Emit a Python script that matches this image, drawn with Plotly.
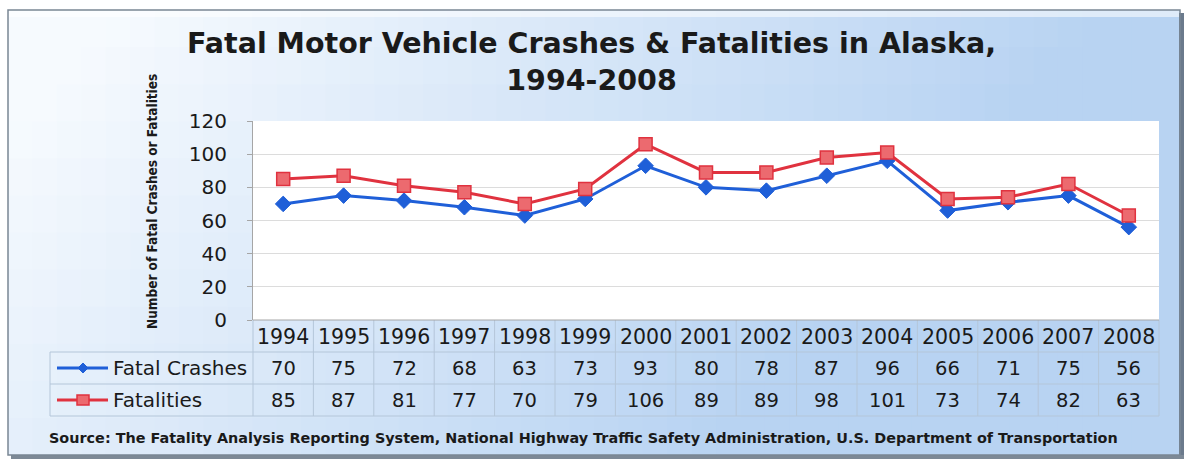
import plotly.graph_objects as go

W, H = 1187, 462

years = ["1994", "1995", "1996", "1997", "1998", "1999", "2000", "2001",
         "2002", "2003", "2004", "2005", "2006", "2007", "2008"]
fatal_crashes = [70, 75, 72, 68, 63, 73, 93, 80, 78, 87, 96, 66, 71, 75, 56]
fatalities = [85, 87, 81, 77, 70, 79, 106, 89, 89, 98, 101, 73, 74, 82, 63]
series_names = ["Fatal Crashes", "Fatalities"]
y_ticks = [0, 20, 40, 60, 80, 100, 120]

title_text = "Fatal Motor Vehicle Crashes & Fatalities in Alaska,<br>1994-2008"
y_title = "Number of Fatal Crashes or Fatalities"
source_text = ("Source: The Fatality Analysis Reporting System, National Highway "
               "Traffic Safety Administration, U.S. Department of Transportation")

BLUE = "#1f5fd8"
RED = "#e0323f"
RED_FILL = "#ec6a6f"
GRID = "#dcdcdc"
TLINE = "#b4c6d9"
TXT = "#1a1a1a"
NUM_FONT = "DejaVu Sans"


def px(x):
    return x / W


def py(y):
    return 1 - y / H


PL, PR, PT, PB = 253, 1159, 121, 320
TAB_L = 50
ROW_Y = [337, 368, 400]
ROW_LINES = [352, 384, 416]

fig = go.Figure()

xs = list(range(len(years)))
fig.add_trace(go.Scatter(
    x=xs, y=fatal_crashes, name=series_names[0], mode="lines+markers",
    line=dict(color=BLUE, width=3),
    marker=dict(symbol="diamond", size=12, color=BLUE, line=dict(color=BLUE, width=1)),
    cliponaxis=False, showlegend=False))
fig.add_trace(go.Scatter(
    x=xs, y=fatalities, name=series_names[1], mode="lines+markers",
    line=dict(color=RED, width=3),
    marker=dict(symbol="square", size=13, color=RED_FILL, line=dict(color=RED, width=1.5)),
    cliponaxis=False, showlegend=False))

shapes = []
c0 = (246, 250, 254)
c1 = (184, 211, 242)
FX0, FX1, FY0, FY1 = 8, 1180, 10, 455
NC, NR = 48, 12
for i in range(NC):
    for j in range(NR):
        xa = FX0 + (FX1 - FX0) * i / NC
        xb = FX0 + (FX1 - FX0) * (i + 1) / NC
        ya = FY0 + (FY1 - FY0) * j / NR
        yb = FY0 + (FY1 - FY0) * (j + 1) / NR
        t = 1.2 * ((i + 0.5) / NC) + 0.4 * ((j + 0.5) / NR) - 0.12
        t = max(0.0, min(1.0, t))
        col = tuple(int(round(c0[k] + (c1[k] - c0[k]) * t)) for k in range(3))
        shapes.append(dict(type="rect", xref="paper", yref="paper", layer="below",
                           x0=px(xa), x1=px(min(xb + 1, FX1)), y0=py(min(yb + 1, FY1)), y1=py(ya),
                           fillcolor="rgb(%d,%d,%d)" % col, line=dict(width=0)))
# top highlight band
shapes.append(dict(type="rect", xref="paper", yref="paper", layer="below",
                   x0=px(FX0), x1=px(FX1), y0=py(17), y1=py(FY0),
                   fillcolor="rgba(255,255,255,0.55)", line=dict(width=0)))
# shadow and frame
shapes.append(dict(type="rect", xref="paper", yref="paper", layer="below",
                   x0=px(FX1 - 1), x1=px(FX1 + 4), y0=py(FY1 + 4), y1=py(FY0 + 3),
                   fillcolor="#6b7a8c", line=dict(width=0)))
shapes.append(dict(type="rect", xref="paper", yref="paper", layer="below",
                   x0=px(FX0 + 3), x1=px(FX1 + 4), y0=py(FY1 + 4), y1=py(FY1),
                   fillcolor="#7d8996", line=dict(width=0)))
shapes.append(dict(type="rect", xref="paper", yref="paper", layer="below",
                   x0=px(FX0), x1=px(FX1), y0=py(FY1), y1=py(FY0),
                   fillcolor="rgba(0,0,0,0)", line=dict(color="#7a8794", width=1.5)))
shapes.append(dict(type="rect", xref="paper", yref="paper", layer="below",
                   x0=px(PL), x1=px(PR), y0=py(PB), y1=py(PT),
                   fillcolor="white", line=dict(width=0)))
for yl in ROW_LINES:
    shapes.append(dict(type="line", xref="paper", yref="paper",
                       x0=px(TAB_L), x1=px(PR), y0=py(yl), y1=py(yl),
                       line=dict(color=TLINE, width=1)))
shapes.append(dict(type="line", xref="paper", yref="paper",
                   x0=px(TAB_L), x1=px(TAB_L), y0=py(ROW_LINES[0]), y1=py(ROW_LINES[-1]),
                   line=dict(color=TLINE, width=1)))
cw = (PR - PL) / len(years)
for k in range(len(years) + 1):
    xx = PL + cw * k
    shapes.append(dict(type="line", xref="paper", yref="paper",
                       x0=px(xx), x1=px(xx), y0=py(PB), y1=py(ROW_LINES[-1]),
                       line=dict(color=TLINE, width=1)))
shapes.append(dict(type="line", xref="paper", yref="paper",
                   x0=px(57), x1=px(108), y0=py(ROW_Y[1]), y1=py(ROW_Y[1]),
                   line=dict(color=BLUE, width=3)))
shapes.append(dict(type="path", xref="paper", yref="paper",
                   path="M %f %f L %f %f L %f %f L %f %f Z" % (
                       px(83), py(ROW_Y[1] - 5), px(88), py(ROW_Y[1]),
                       px(83), py(ROW_Y[1] + 5), px(78), py(ROW_Y[1])),
                   fillcolor=BLUE, line=dict(color=BLUE, width=1)))
shapes.append(dict(type="line", xref="paper", yref="paper",
                   x0=px(57), x1=px(108), y0=py(ROW_Y[2]), y1=py(ROW_Y[2]),
                   line=dict(color=RED, width=3)))
shapes.append(dict(type="rect", xref="paper", yref="paper",
                   x0=px(77), x1=px(89), y0=py(ROW_Y[2] + 5), y1=py(ROW_Y[2] - 5),
                   fillcolor=RED_FILL, line=dict(color=RED, width=1.5)))

annotations = []
annotations.append(dict(text="<b>" + title_text + "</b>", xref="paper", yref="paper",
                        x=px(591), y=py(62), xanchor="center", yanchor="middle",
                        showarrow=False, align="center",
                        font=dict(family="DejaVu Sans", size=28.5, color=TXT)))
annotations.append(dict(text="<b>" + y_title + "</b>", xref="paper", yref="paper",
                        x=px(152), y=py(201), xanchor="center", yanchor="middle",
                        textangle=-90, showarrow=False,
                        font=dict(family="Liberation Sans Narrow, DejaVu Sans Condensed, sans-serif",
                                  size=13.5, color=TXT)))
annotations.append(dict(text="<b>" + source_text + "</b>", xref="paper", yref="paper",
                        x=px(47), y=py(438), xanchor="left", yanchor="middle",
                        showarrow=False,
                        font=dict(family="DejaVu Sans", size=14.4, color=TXT)))
for i, yr in enumerate(years):
    annotations.append(dict(text=yr, xref="x", yref="paper", x=i, y=py(ROW_Y[0]),
                            xanchor="center", yanchor="middle", showarrow=False,
                            font=dict(family=NUM_FONT, size=20.5, color=TXT)))
    annotations.append(dict(text=str(fatal_crashes[i]), xref="x", yref="paper", x=i,
                            y=py(ROW_Y[1]), xanchor="center", yanchor="middle",
                            showarrow=False, font=dict(family=NUM_FONT, size=19.5, color=TXT)))
    annotations.append(dict(text=str(fatalities[i]), xref="x", yref="paper", x=i,
                            y=py(ROW_Y[2]), xanchor="center", yanchor="middle",
                            showarrow=False, font=dict(family=NUM_FONT, size=19.5, color=TXT)))
for r, name in enumerate(series_names):
    annotations.append(dict(text=name, xref="paper", yref="paper", x=px(111),
                            y=py(ROW_Y[r + 1]), xanchor="left", yanchor="middle",
                            showarrow=False, font=dict(family=NUM_FONT, size=20, color=TXT)))

fig.update_layout(
    width=W, height=H,
    margin=dict(l=0, r=0, t=0, b=0, pad=0, autoexpand=False),
    paper_bgcolor="white", plot_bgcolor="rgba(0,0,0,0)",
    shapes=shapes, annotations=annotations, showlegend=False,
    xaxis=dict(domain=[px(PL), px(PR)], range=[-0.5, len(years) - 0.5],
               showticklabels=False, showgrid=False, zeroline=False,
               showline=False, ticks="", automargin=False),
    yaxis=dict(domain=[py(PB), py(PT)], range=[0, 120], tickvals=y_ticks,
               showgrid=True, gridcolor=GRID, gridwidth=1, zeroline=False,
               showline=True, linecolor="#a6a6a6", linewidth=1,
               ticks="outside", ticklen=5, tickcolor="#a6a6a6",
               ticklabelstandoff=16, automargin=False,
               tickfont=dict(family=NUM_FONT, size=20, color=TXT)),
)
fig.add_shape(type="line", xref="paper", yref="paper", x0=px(PL), x1=px(PR),
              y0=py(PB), y1=py(PB), line=dict(color="#a6a6a6", width=1))

fig.write_html("out.html", config={"displayModeBar": False},
               post_script="document.body.style.margin='0';"
                           "document.body.style.overflow='hidden';")
